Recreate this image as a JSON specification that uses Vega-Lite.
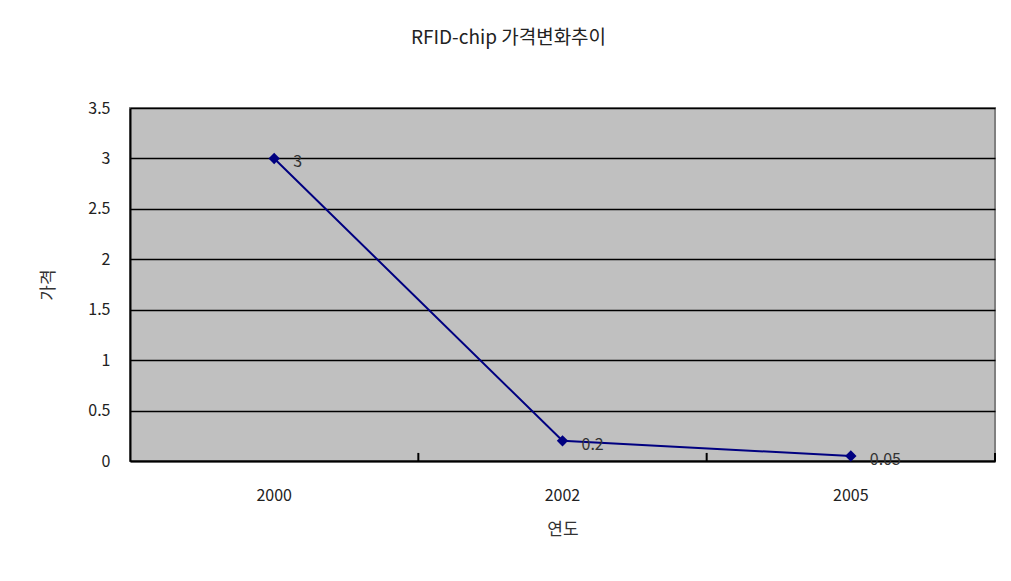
{
  "$schema": "https://vega.github.io/schema/vega-lite/v6.json",
  "width": 865,
  "height": 353,
  "autosize": {"type": "none"},
  "padding": {"left": 130, "top": 108, "right": 16, "bottom": 120},
  "background": "white",
  "title": {
    "text": "RFID-chip 가격변화추이",
    "font": "Noto Sans CJK KR",
    "fontSize": 19,
    "fontWeight": "normal",
    "color": "#222",
    "anchor": "middle",
    "dx": -54,
    "offset": 52
  },
  "data": {
    "values": [
      {"year": "2000", "price": 3},
      {"year": "2002", "price": 0.2},
      {"year": "2005", "price": 0.05}
    ]
  },
  "encoding": {
    "x": {
      "field": "year",
      "type": "ordinal",
      "title": "연도",
      "scale": {"paddingInner": 0, "paddingOuter": 0},
      "axis": {
        "labelAngle": 0,
        "ticks": false,
        "domainColor": "#000",
        "domainWidth": 2,
        "labelPadding": 26,
        "titlePadding": 18
      }
    },
    "y": {
      "field": "price",
      "type": "quantitative",
      "title": "가격",
      "scale": {"domain": [0, 3.5], "nice": false},
      "axis": {
        "values": [0, 0.5, 1, 1.5, 2, 2.5, 3, 3.5],
        "labelExpr": "toString(datum.value)",
        "grid": true,
        "gridColor": "#000",
        "gridWidth": 1.5,
        "gridOpacity": 1,
        "ticks": false,
        "domainColor": "#000",
        "domainWidth": 2,
        "labelPadding": 20,
        "titlePadding": 30
      }
    }
  },
  "layer": [
    {
      "mark": {"type": "rule", "color": "#000", "strokeWidth": 2},
      "encoding": {
        "x": {"field": "year", "type": "ordinal", "bandPosition": 1},
        "y": {"datum": 0},
        "y2": {"datum": 0.08}
      }
    },
    {
      "mark": {"type": "line", "color": "#000080", "strokeWidth": 2}
    },
    {
      "mark": {"type": "point", "shape": "diamond", "filled": true, "size": 130, "color": "#000080", "opacity": 1}
    },
    {
      "mark": {"type": "text", "align": "left", "baseline": "middle", "dx": 19, "dy": 4, "font": "Noto Sans CJK KR", "fontSize": 16, "color": "#333"},
      "encoding": {"text": {"field": "price", "type": "quantitative"}}
    }
  ],
  "config": {
    "view": {"fill": "#C0C0C0", "stroke": "#808080", "strokeWidth": 2},
    "axis": {
      "labelFont": "Noto Sans CJK KR",
      "labelFontSize": 16,
      "labelColor": "#222",
      "titleFont": "Noto Sans CJK KR",
      "titleFontSize": 17,
      "titleFontWeight": "normal",
      "titleColor": "#333"
    }
  }
}
